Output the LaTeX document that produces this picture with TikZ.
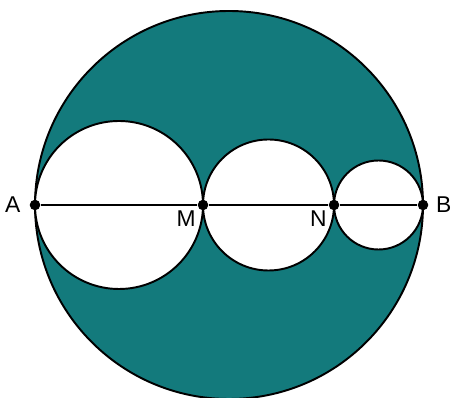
\documentclass[tikz,border=0pt]{standalone}
\usepackage{fontspec}
\setmainfont{Liberation Sans}
\begin{document}
\begin{tikzpicture}[x=0.02cm,y=0.02cm,font=\fontsize{13}{15}\selectfont,
    pt/.style={circle,fill=black,inner sep=0pt,minimum size=6pt},
    lab/.style={inner sep=1pt}]
  \definecolor{disk}{HTML}{137A7C}
  \path[use as bounding box] (0,0) rectangle (452,398);

  % big disk, then the three holes on the diameter
  \draw[fill=disk,line width=1.1pt] (229,193) circle (194);
  \draw[fill=white,line width=1.1pt] (119,193) circle (84);
  \draw[fill=white,line width=1.1pt] (268.5,193) circle (65.5);
  \draw[fill=white,line width=1.1pt] (378.5,193) circle (44.5);

  \node[pt] (A) at (35,193) {};
  \node[pt] (M) at (203,193) {};
  \node[pt] (N) at (334,193) {};
  \node[pt] (B) at (423,193) {};
  \draw[line width=0.7pt] (A) -- (M) -- (N) -- (B);

  \node[lab,anchor=east] (la) at ([xshift=-4]A.west) {A};
  \node[lab,anchor=north east] (lm) at ([xshift=-3,yshift=1]M.south) {M};
  \node[lab,anchor=north east] (ln) at ([xshift=-3,yshift=1]N.south) {N};
  \node[lab,anchor=west] (lb) at ([xshift=3]B.east) {B};
\end{tikzpicture}
\end{document}
